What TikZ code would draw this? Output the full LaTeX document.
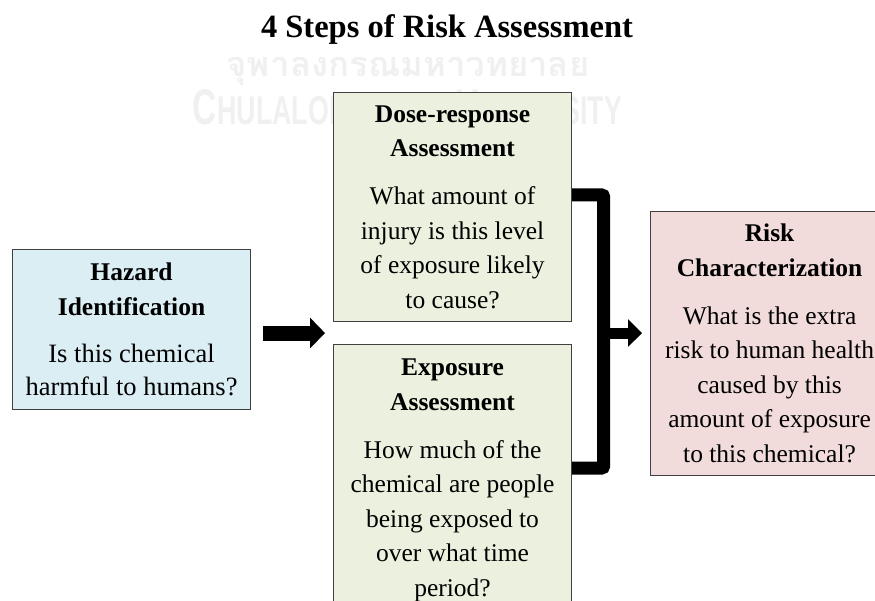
\documentclass[tikz,border=0pt]{standalone}
\usepackage{fontspec}
\setmainfont{Liberation Serif}
\setsansfont{Liberation Sans}
\newfontfamily\thaifont[Script=Thai]{Loma}
\usepackage{graphicx}
\usetikzlibrary{arrows.meta,calc,positioning}
\definecolor{hazfill}{HTML}{DBEEF4}
\definecolor{assessfill}{HTML}{EBF1DE}
\definecolor{riskfill}{HTML}{F2DCDB}
\definecolor{boxline}{HTML}{404040}
\definecolor{wmgray}{HTML}{F0F0F0}
\newcommand{\boxhead}[1]{{\fontsize{25.5}{34.5}\selectfont\bfseries #1\par}\vspace{13.5pt}}
\newcommand{\boxbody}[1]{#1\par}

\begin{document}
\begin{tikzpicture}[
  x=1pt, y=-1pt,
  stepbox/.style={draw=boxline, line width=1.1pt, font=\fontsize{25.5}{34.5}\selectfont, text width=228pt, align=flush center, inner xsep=5pt, inner ysep=0pt, minimum width=238pt, anchor=north west},
  fatarrow/.style={line width=15pt, -{Triangle[length=15pt,width=30pt]}},
  wmark/.style={text=wmgray, inner sep=0pt}
]
\useasboundingbox (0,0) rectangle (875,601);
\clip (0,0) rectangle (875,601);

% watermark
\node[wmark, anchor=base] (wmthai) at (408,77) {\resizebox{363pt}{!}{\thaifont\bfseries จุฬาลงกรณ์มหาวิทยาลัย}};
\node[wmark] (wmeng) at (407.5,107.5) {\resizebox{429pt}{35pt}{\sffamily\bfseries\fontsize{35}{35}\selectfont C\fontsize{28}{28}\selectfont HULALONGKORN \fontsize{35}{35}\selectfont U\fontsize{28}{28}\selectfont NIVERSITY}};

% title
\node[font=\fontsize{32.5}{36}\selectfont\bfseries, fill=white, minimum width=520pt, inner ysep=12pt, anchor=base] (title) at (447,38) {4 Steps of Risk Assessment};

% the four steps
\node[stepbox, fill=hazfill, minimum height=160pt, font=\fontsize{26.5}{33.5}\selectfont] (haz) at (12,249)
  {\boxhead{Hazard\\Identification}\boxbody{Is this chemical\\harmful to humans?}};
\node[stepbox, fill=assessfill, minimum height=229pt] (dose) at (333,92)
  {\boxhead{Dose-response\\Assessment}\boxbody{What amount of\\injury is this level\\of exposure likely\\to cause?}};
\node[stepbox, fill=assessfill, minimum height=272pt] (expo) at (333,344)
  {\boxhead{Exposure\\Assessment}\boxbody{How much of the\\chemical are people\\being exposed to\\over what time\\period?}};
\node[stepbox, fill=riskfill, minimum height=264pt] (risk) at (650,211)
  {\boxhead{Risk\\Characterization}\boxbody{What is the extra\\risk to human health\\caused by this\\amount of exposure\\to this chemical?}};

% arrows
\coordinate (gap) at ($(dose.south west)!0.5!(expo.north west)$);
\draw[fatarrow] ($(haz.east |- gap)+(12,0)$) -- ($(gap)+(-8,0)$);

\coordinate (doseout) at ($(dose.north east)+(0,103)$);
\coordinate (expoout) at ($(expo.north east)+(0,124)$);
\coordinate (join) at ($(doseout)+(31.5,0)$);
\draw[line width=13pt, rounded corners=2pt] (doseout) -| (join |- expoout) -- (expoout);

\coordinate (mid) at (join |- gap);
\draw[line width=11pt, -{Triangle[length=14pt,width=27pt]}] (mid) -- ($(risk.west |- mid)+(-8,0)$);
\end{tikzpicture}
\end{document}
